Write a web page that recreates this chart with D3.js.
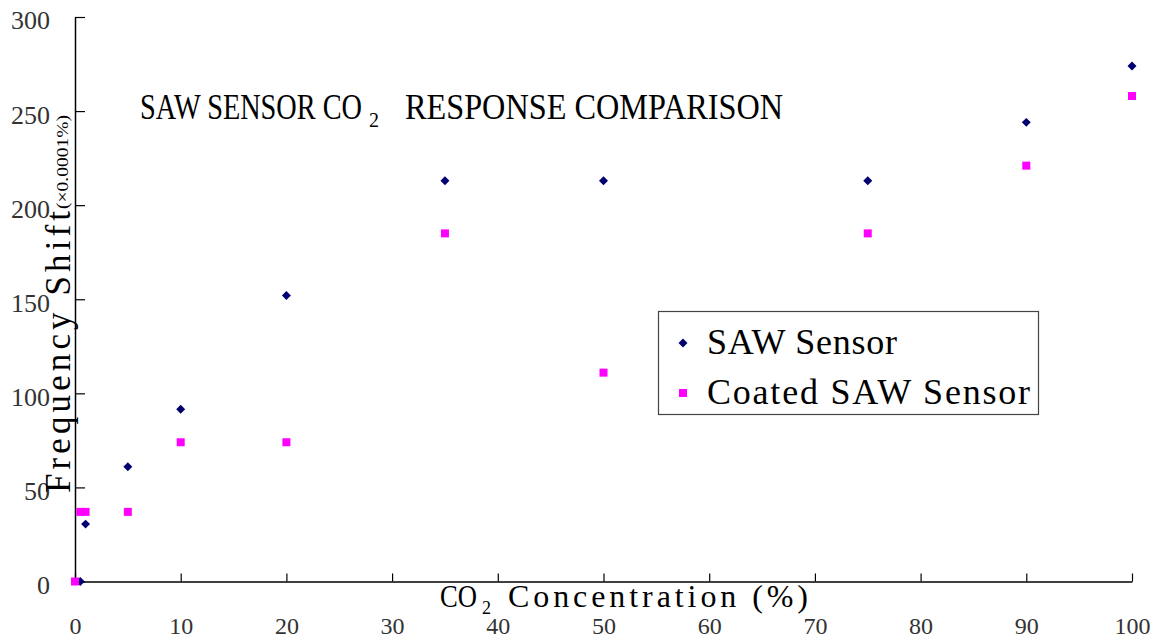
<!DOCTYPE html>
<html>
<head>
<meta charset="utf-8">
<script src="https://cdn.jsdelivr.net/npm/d3@7"></script>
<style>
  html, body { margin: 0; padding: 0; background: #fff; }
  svg { display: block; }
  text { font-family: "Liberation Serif", "DejaVu Serif", serif; }
</style>
</head>
<body>
<svg id="chart" width="1163" height="643"></svg>
<script>
// ---- data ----
const xTicks = [0, 10, 20, 30, 40, 50, 60, 70, 80, 90, 100];
const yTicks = [0, 50, 100, 150, 200, 250, 300];

const sawConc  = [0.5, 1, 5, 10, 20, 35, 50, 75, 90, 100];
const sawShift = [0, 30.5, 61, 91.5, 152, 213, 213, 213, 244, 274];

const coatedConc  = [0, 0.5, 1, 5, 10, 20, 35, 50, 75, 90, 100];
const coatedShift = [0, 37, 37, 37, 74, 74, 185, 111, 185, 221, 258];

const seriesNames = ["SAW Sensor", "Coated SAW Sensor"];

// ---- drawing ----
const svg = d3.select("#chart");
const x = d3.scaleLinear().domain([0, 100]).range([75, 1132]);
const y = d3.scaleLinear().domain([0, 300]).range([581.5, 17]);

const navy = "#000070";
const magenta = "#ff00ff";

// axes
const xAxis = d3.axisBottom(x).tickValues(xTicks).tickSize(-8).tickSizeOuter(0).tickPadding(35);
const gx = svg.append("g").attr("transform", `translate(0,${y(0)})`).call(xAxis);
gx.select(".domain").attr("stroke", "#000").attr("stroke-width", 1.5);
gx.selectAll(".tick line").attr("stroke", "#000").attr("stroke-width", 1.2);
gx.selectAll(".tick text").attr("font-size", 24).attr("fill", "#333")
  .attr("font-family", "Liberation Serif, serif");

const yAxis = d3.axisLeft(y).tickValues(yTicks).tickSize(-10).tickSizeOuter(0).tickPadding(25);
const gy = svg.append("g").attr("transform", `translate(${x(0)},0)`).call(yAxis);
gy.select(".domain").attr("stroke", "#000").attr("stroke-width", 1.5);
gy.selectAll(".tick line").attr("stroke", "#000").attr("stroke-width", 1.2);
gy.selectAll(".tick text").attr("font-size", 26).attr("fill", "#333").attr("dy", "0.46em")
  .attr("font-family", "Liberation Serif, serif");

// y axis title (one text, superscript as tspan)
const ylt = svg.append("text").attr("transform", "translate(70,493) rotate(-90)")
  .attr("x", 0).attr("y", 0).attr("fill", "#000");
ylt.append("tspan").attr("font-size", 35).attr("textLength", 282).attr("lengthAdjust", "spacing")
  .text("Frequency Shift");
ylt.append("tspan").attr("x", 284).attr("dy", -2).attr("font-size", 17)
  .attr("textLength", 94).attr("lengthAdjust", "spacingAndGlyphs").text("(×0.0001%)");

// x axis title (one text, subscript as tspan)
const xlt = svg.append("text").attr("x", 440).attr("y", 607).attr("fill", "#000");
xlt.append("tspan").attr("font-size", 32).attr("textLength", 37).attr("lengthAdjust", "spacingAndGlyphs").text("CO");
xlt.append("tspan").attr("x", 482).attr("dy", 7).attr("font-size", 19)
  .attr("textLength", 9).attr("lengthAdjust", "spacingAndGlyphs").text("2");
xlt.append("tspan").attr("x", 508).attr("dy", -7).attr("font-size", 32)
  .attr("textLength", 300).attr("lengthAdjust", "spacing").text("Concentration (%)");

// chart title (one text, subscript as tspan)
const tlt = svg.append("text").attr("x", 140).attr("y", 119).attr("fill", "#000");
tlt.append("tspan").attr("font-size", 36).attr("textLength", 222).attr("lengthAdjust", "spacingAndGlyphs")
  .text("SAW SENSOR CO");
tlt.append("tspan").attr("x", 369).attr("dy", 8).attr("font-size", 22)
  .attr("textLength", 10).attr("lengthAdjust", "spacingAndGlyphs").text("2");
tlt.append("tspan").attr("x", 405).attr("dy", -8).attr("font-size", 36)
  .attr("textLength", 378).attr("lengthAdjust", "spacingAndGlyphs").text("RESPONSE COMPARISON");

// markers
const diamond = d3.symbol().type(d3.symbolSquare).size(40);
const square = d3.symbol().type(d3.symbolSquare).size(64);

svg.append("g").selectAll("path").data(sawConc.map((c, i) => [c, sawShift[i]]))
  .join("path")
  .attr("d", diamond)
  .attr("transform", d => `translate(${x(d[0])},${y(d[1])}) rotate(45)`)
  .attr("fill", navy);

svg.append("g").selectAll("path").data(coatedConc.map((c, i) => [c, coatedShift[i]]))
  .join("path")
  .attr("d", square)
  .attr("transform", d => `translate(${x(d[0])},${y(d[1])})`)
  .attr("fill", magenta);

// legend
const lg = svg.append("g");
lg.append("rect").attr("x", 658.5).attr("y", 311.5).attr("width", 380).attr("height", 103)
  .attr("fill", "#fff").attr("stroke", "#444").attr("stroke-width", 1.2);
lg.append("path").attr("d", diamond).attr("transform", "translate(683,343) rotate(45)").attr("fill", navy);
lg.append("path").attr("d", square).attr("transform", "translate(683,393)").attr("fill", magenta);
lg.append("text").attr("x", 707).attr("y", 354).attr("font-size", 36)
  .attr("textLength", 190).attr("lengthAdjust", "spacing").text(seriesNames[0]);
lg.append("text").attr("x", 707).attr("y", 404).attr("font-size", 36)
  .attr("textLength", 323).attr("lengthAdjust", "spacing").text(seriesNames[1]);
</script>
</body>
</html>
